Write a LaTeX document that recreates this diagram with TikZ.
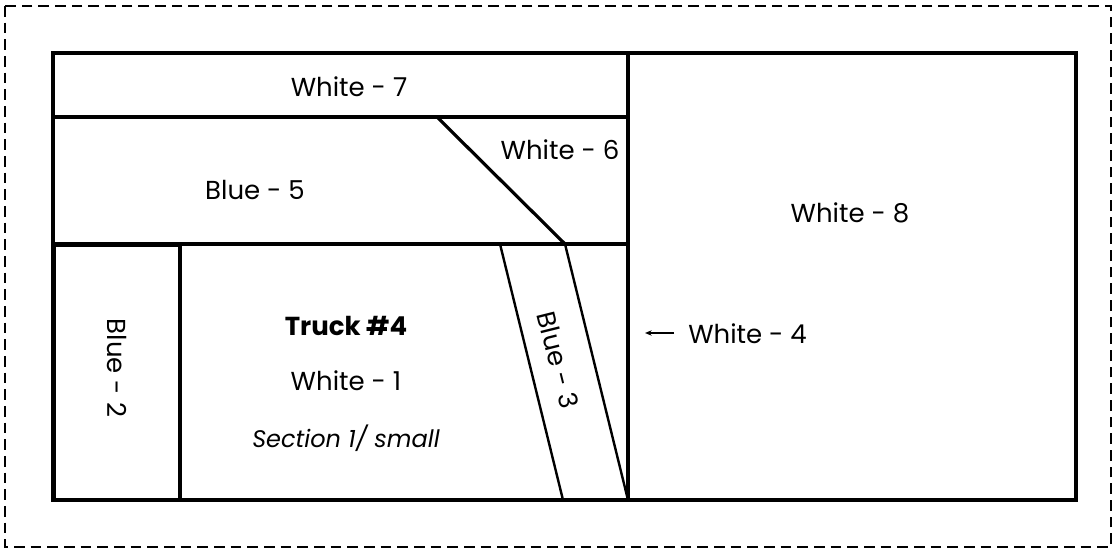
\documentclass[tikz,border=0pt]{standalone}
\usepackage{fontspec}
\setmainfont{Poppins}
\usetikzlibrary{arrows.meta}
\begin{document}
\begin{tikzpicture}[x=0.75pt,y=-0.75pt,
  wall/.style={line width=2.4pt,line join=miter},
  thinwall/.style={line width=1.8pt},
  lbl/.style={font=\fontsize{19.5}{23}\selectfont,inner sep=0pt},
  frame/.style={line width=1.5pt,dash pattern=on 8pt off 4.5pt}]
\useasboundingbox (0,0) rectangle (1115,552);
\draw[frame] (5,6) rectangle (1111,547);
% outer shape
\draw[wall] (53,53) rectangle (1076,500);
\draw[wall] (628,53) -- (628,500);
\draw[wall] (53,117) -- (628,117);
\draw[wall] (53,244) -- (628,244);
\draw[wall] (437,117) -- (565,244);
% Blue-2 box
\draw[thinwall] (55,246) rectangle (180,500);
\draw[wall] (180,246) -- (180,500);
% Blue-3 strip
\draw[thinwall] (500,244) -- (563,500);
\draw[thinwall] (565,244) -- (628,500);
% labels
\node[lbl] (w7) at (349,87) {White - 7};
\node[lbl] (w6) at (560,150) {White - 6};
\node[lbl] (b5) at (255,190) {Blue - 5};
\node[lbl] (w8) at (850,213) {White - 8};
\node[lbl,font=\fontsize{19.5}{23}\selectfont\bfseries] (t4) at (346,326) {Truck \#4};
\node[lbl] (w1) at (346,381) {White - 1};
\node[lbl,font=\fontsize{18}{21}\selectfont\itshape] (s1) at (346,438) {Section 1/ small};
\node[lbl,rotate=-90] (b2) at (117,368) {Blue - 2};
\node[lbl,rotate=-76] (b3) at (558,360) {Blue - 3};
\node[lbl,anchor=west] (w4) at (688,334) {White - 4};
\coordinate (a4) at (645,333);
\draw[line width=1.1pt,-{Stealth[length=5pt,width=4pt]}] (w4.west) ++(-14,-1) -- (a4);
\end{tikzpicture}
\end{document}
